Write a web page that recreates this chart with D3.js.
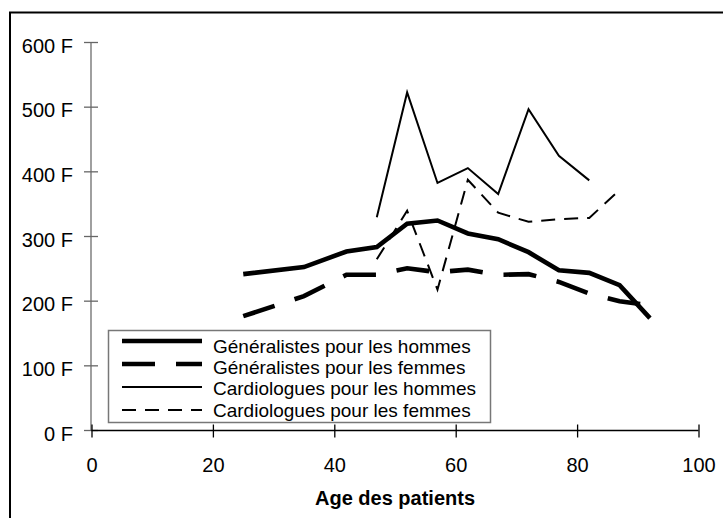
<!DOCTYPE html>
<html>
<head>
<meta charset="utf-8" />
<title>Généralistes et cardiologues</title>
<style>
body {
  margin: 0;
  background: white;
  font-family: "Liberation Sans", Arial, sans-serif;
}
</style>
<script src="https://cdn.jsdelivr.net/npm/d3@7"></script>
</head>
<body>
<script>
var width = 723;
var height = 518;

// ages for the generalists, then for the cardiologists
var agesGen = [25, 35, 42, 47, 52, 57, 62, 67, 72, 77, 82, 87, 92];
var genHommes = [241, 252, 276, 283, 319, 324, 304, 295, 275, 247, 243, 224, 173];
var genFemmes = [176, 207, 240, 240, 250, 244, 248, 240, 241, 229, 211, 199, 193];

var agesCardioH = [47, 52, 57, 62, 67, 72, 77, 82];
var cardioHommes = [329, 522, 382, 405, 365, 496, 424, 386];
var agesCardioF = [47, 52, 57, 62, 67, 72, 77, 82, 87];
var cardioFemmes = [264, 339, 217, 387, 336, 322, 326, 328, 371];

var xTicks = [0, 20, 40, 60, 80, 100];
var yTicks = [0, 100, 200, 300, 400, 500, 600];

var legendLabels = [
  "Généralistes pour les hommes",
  "Généralistes pour les femmes",
  "Cardiologues pour les hommes",
  "Cardiologues pour les femmes"
];

var svg = d3.select("body")
  .append("svg")
  .attr("width", width)
  .attr("height", height);

// outer frame, goes off the picture at right and bottom
svg.append("rect")
  .attr("x", 10)
  .attr("y", 12.5)
  .attr("width", 740)
  .attr("height", 540)
  .attr("fill", "none")
  .attr("stroke", "black")
  .attr("stroke-width", 2);

var x = d3.scaleLinear().domain([0, 100]).range([91.5, 698.5]);
var y = d3.scaleLinear().domain([0, 600]).range([430, 42]);

// y axis (grey, ticks crossing the line)
var yAxis = svg.append("g")
  .attr("transform", "translate(91,0)")
  .call(d3.axisLeft(y).tickValues(yTicks).tickSize(7).tickPadding(11)
    .tickFormat(function(d){ return d + " F"; }));
yAxis.select(".domain").attr("stroke", "#777").attr("stroke-width", 1.4)
  .attr("d", "M0," + y(600) + "V" + y(0));
yAxis.selectAll(".tick line").attr("x1", -7).attr("x2", 7).attr("stroke", "#666").attr("stroke-width", 1.3);
yAxis.selectAll(".tick text")
  .attr("dy", "0.5em")
  .attr("fill", "black")
  .style("font-size", "20px")
  .style("font-family", "'Liberation Sans', Arial, sans-serif");

// x axis
var xAxis = svg.append("g")
  .attr("transform", "translate(0,430.5)")
  .call(d3.axisBottom(x).tickValues(xTicks).tickSize(7).tickPadding(20));
xAxis.select(".domain").attr("stroke", "black").attr("stroke-width", 1.3)
  .attr("d", "M" + x(0) + ",0H" + x(100));
xAxis.selectAll(".tick line").attr("y1", -6).attr("y2", 7).attr("stroke", "black").attr("stroke-width", 1.3);
xAxis.selectAll(".tick text")
  .attr("fill", "black")
  .style("font-size", "20px")
  .style("font-family", "'Liberation Sans', Arial, sans-serif");

svg.append("text")
  .attr("x", (x(0) + x(100)) / 2)
  .attr("y", 505)
  .attr("text-anchor", "middle")
  .style("font-size", "20px")
  .style("font-weight", "bold")
  .text("Age des patients");

// the four series
var series = [
  { ages: agesGen, vals: genHommes, w: 4.6, dash: null },
  { ages: agesGen, vals: genFemmes, w: 4.6, dash: "33,21" },
  { ages: agesCardioH, vals: cardioHommes, w: 2, dash: null },
  { ages: agesCardioF, vals: cardioFemmes, w: 2, dash: "14,9" }
];

var line = d3.line()
  .x(function(d){ return x(d[0]); })
  .y(function(d){ return y(d[1]); });

series.forEach(function(s){
  var pts = s.ages.map(function(a, i){ return [a, s.vals[i]]; });
  svg.append("path")
    .attr("d", line(pts))
    .attr("fill", "none")
    .attr("stroke", "black")
    .attr("stroke-width", s.w)
    .attr("stroke-linejoin", "miter")
    .attr("stroke-dasharray", s.dash);
});

// legend
var legend = svg.append("g");
legend.append("rect")
  .attr("x", 108.5)
  .attr("y", 330.5)
  .attr("width", 382)
  .attr("height", 92)
  .attr("fill", "white")
  .attr("stroke", "#777")
  .attr("stroke-width", 1.5);

legendLabels.forEach(function(lab, i){
  var s = series[i];
  var ly = 341 + i * 23;
  legend.append("line")
    .attr("x1", 122).attr("x2", 202)
    .attr("y1", ly).attr("y2", ly)
    .attr("stroke", "black")
    .attr("stroke-width", s.w)
    .attr("stroke-dasharray", s.dash);
  legend.append("text")
    .attr("x", 213)
    .attr("y", 353 + i * 21.2)
    .style("font-size", "19px")
    .text(lab);
});
</script>
</body>
</html>
